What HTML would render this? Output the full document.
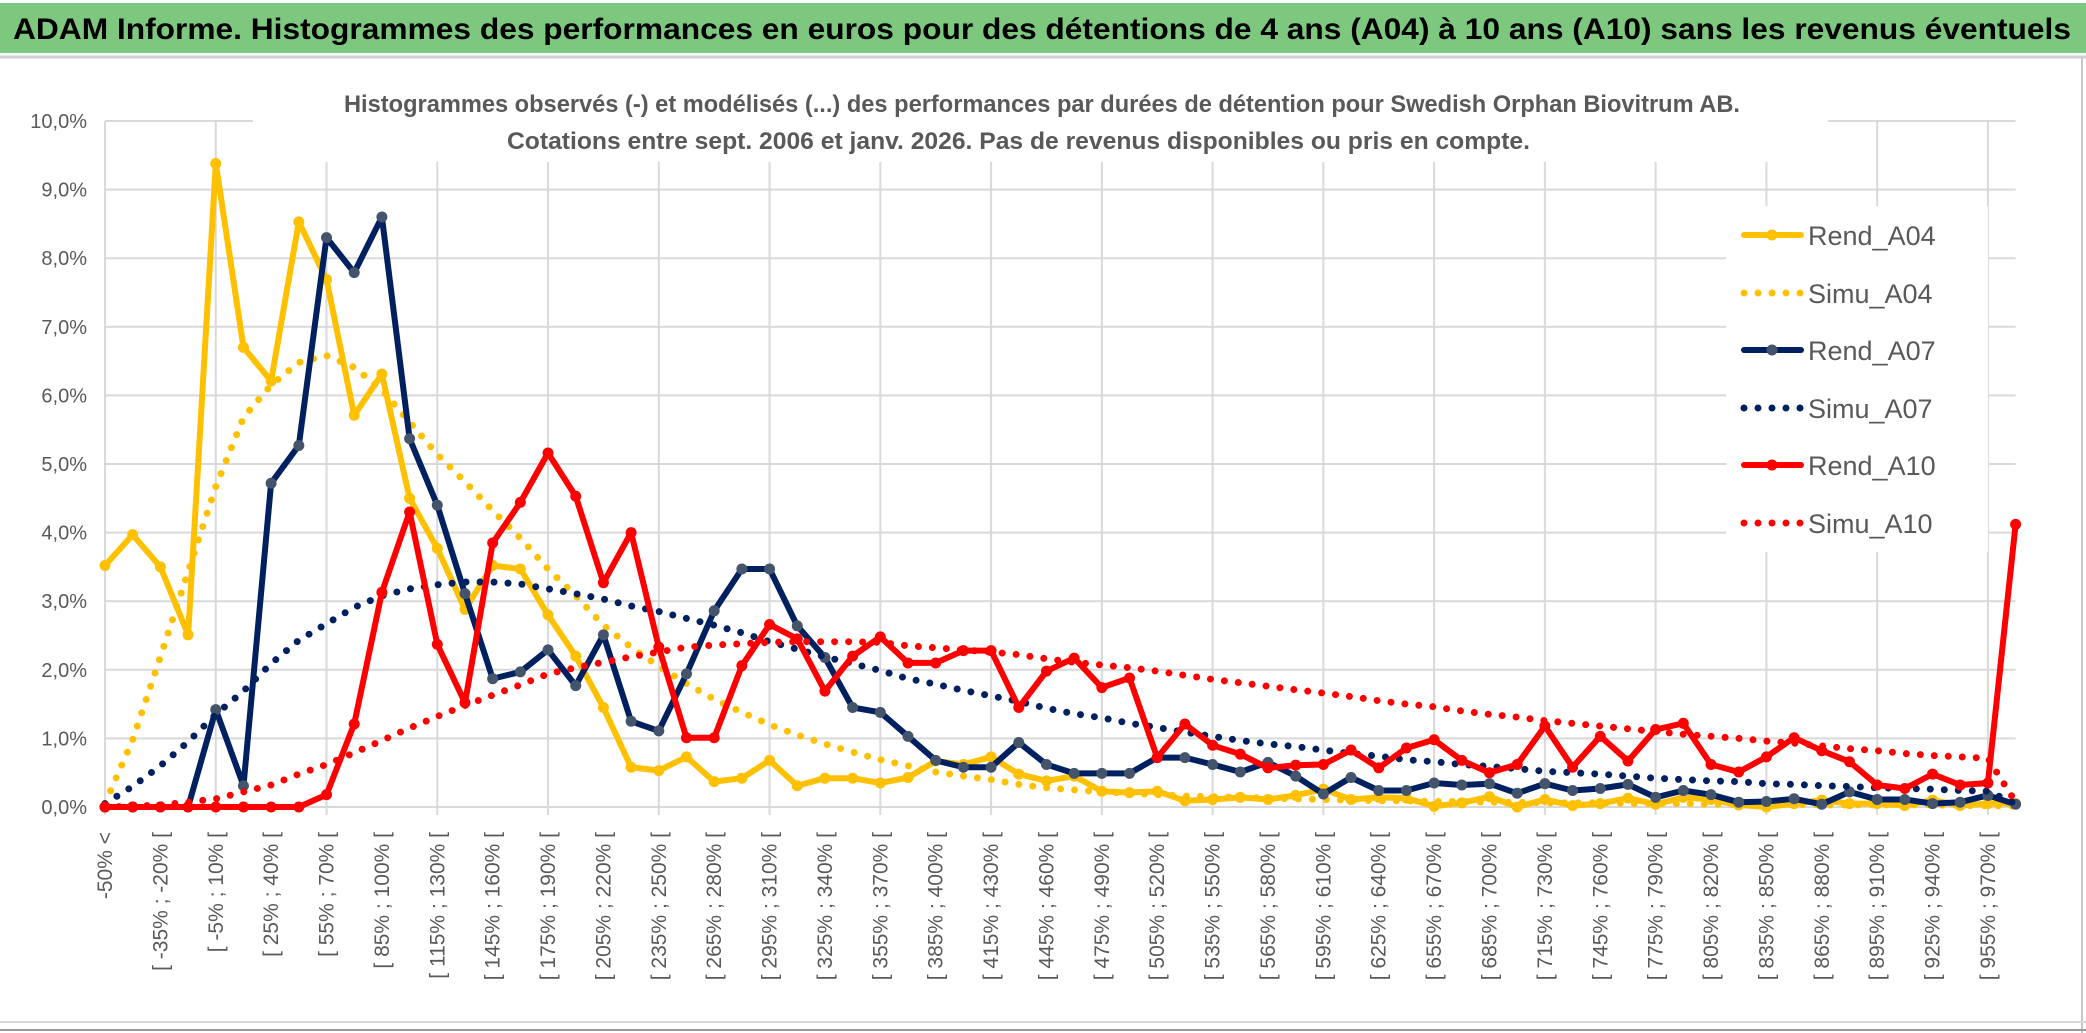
<!DOCTYPE html>
<html><head><meta charset="utf-8"><style>
html,body{margin:0;padding:0;background:#fff;}
svg{display:block;font-family:"Liberation Sans",sans-serif;}
</style></head>
<body>
<svg id="chart" width="2086" height="1033" viewBox="0 0 2086 1033" xmlns="http://www.w3.org/2000/svg">
  <rect x="0" y="0" width="2086" height="1033" fill="#fff"/>
  <rect x="0" y="3" width="2086" height="50" fill="#7dc87e"/>
  <text x="13" y="39" font-size="30" font-weight="bold" fill="#000" textLength="2058" lengthAdjust="spacingAndGlyphs">ADAM Informe. Histogrammes des performances en euros pour des détentions de 4 ans (A04) à 10 ans (A10) sans les revenus éventuels</text>
  <line x1="0" y1="57" x2="2086" y2="57" stroke="#d0d0d0" stroke-width="3"/>
  <line x1="2082" y1="57" x2="2082" y2="1033" stroke="#c8c8c8" stroke-width="2"/>
  <line x1="0" y1="1022" x2="2086" y2="1022" stroke="#d9d9d9" stroke-width="2"/>
  <line x1="0" y1="1030" x2="2086" y2="1030" stroke="#9a9a9a" stroke-width="2"/>
  <g id="grid"></g>
  <g id="ylabels"></g>
  <g id="xlabels"></g>
  <rect x="253" y="80" width="1575" height="82" fill="#fff"/>
  <text x="344" y="112" font-size="24" font-weight="bold" fill="#595959" textLength="1396" lengthAdjust="spacingAndGlyphs">Histogrammes observés (-) et modélisés (...) des performances par durées de détention pour Swedish Orphan Biovitrum AB.</text>
  <text x="507" y="149" font-size="24" font-weight="bold" fill="#595959" textLength="1023" lengthAdjust="spacingAndGlyphs">Cotations entre sept. 2006 et janv. 2026. Pas de revenus disponibles ou pris en compte.</text>
  <g id="series"></g>
  <rect x="1726" y="206" width="262" height="346" fill="#fff"/>
  <g id="legend"></g>
</svg>
<script>
const categories = ["-50% <","[ -50% ; -35% [","[ -35% ; -20% [","[ -20% ; -5% [","[ -5% ; 10% [","[ 10% ; 25% [","[ 25% ; 40% [","[ 40% ; 55% [","[ 55% ; 70% [","[ 70% ; 85% [",
"[ 85% ; 100% [","[ 100% ; 115% [","[ 115% ; 130% [","[ 130% ; 145% [","[ 145% ; 160% [","[ 160% ; 175% [","[ 175% ; 190% [","[ 190% ; 205% [","[ 205% ; 220% [","[ 220% ; 235% [",
"[ 235% ; 250% [","[ 250% ; 265% [","[ 265% ; 280% [","[ 280% ; 295% [","[ 295% ; 310% [","[ 310% ; 325% [","[ 325% ; 340% [","[ 340% ; 355% [","[ 355% ; 370% [","[ 370% ; 385% [",
"[ 385% ; 400% [","[ 400% ; 415% [","[ 415% ; 430% [","[ 430% ; 445% [","[ 445% ; 460% [","[ 460% ; 475% [","[ 475% ; 490% [","[ 490% ; 505% [","[ 505% ; 520% [","[ 520% ; 535% [",
"[ 535% ; 550% [","[ 550% ; 565% [","[ 565% ; 580% [","[ 580% ; 595% [","[ 595% ; 610% [","[ 610% ; 625% [","[ 625% ; 640% [","[ 640% ; 655% [","[ 655% ; 670% [","[ 670% ; 685% [",
"[ 685% ; 700% [","[ 700% ; 715% [","[ 715% ; 730% [","[ 730% ; 745% [","[ 745% ; 760% [","[ 760% ; 775% [","[ 775% ; 790% [","[ 790% ; 805% [","[ 805% ; 820% [","[ 820% ; 835% [",
"[ 835% ; 850% [","[ 850% ; 865% [","[ 865% ; 880% [","[ 880% ; 895% [","[ 895% ; 910% [","[ 910% ; 925% [","[ 925% ; 940% [","[ 940% ; 955% [","[ 955% ; 970% [","[ 970% ; 985% ["];
const yTicks = [0,1,2,3,4,5,6,7,8,9,10];
const yTickLabels = ["0,0%","1,0%","2,0%","3,0%","4,0%","5,0%","6,0%","7,0%","8,0%","9,0%","10,0%"];
const seriesNames = ["Rend_A04","Simu_A04","Rend_A07","Simu_A07","Rend_A10","Simu_A10"];
const rendA04 = [3.52,3.97,3.5,2.51,9.38,6.7,6.21,8.53,7.69,5.71,6.31,4.5,3.77,2.88,3.52,3.47,2.8,2.2,1.45,0.58,0.53,0.73,0.37,0.42,0.68,0.31,0.42,0.42,0.35,0.43,0.67,0.62,0.73,0.48,0.38,0.45,0.23,0.21,0.23,0.09,0.11,0.14,0.11,0.17,0.26,0.11,0.14,0.13,0.01,0.06,0.15,0,0.11,0.02,0.05,0.13,0.04,0.14,0.11,0.03,0,0.05,0.1,0.05,0.05,0.02,0.1,0.02,0.05,0.05];
const simuA04 = [0.05,0.98,2.19,3.43,4.67,5.68,6.15,6.48,6.58,6.41,6.08,5.61,5.14,4.74,4.32,3.92,3.47,3.08,2.65,2.33,2.05,1.8,1.57,1.38,1.2,1.05,0.92,0.8,0.69,0.6,0.51,0.45,0.4,0.33,0.28,0.25,0.22,0.2,0.18,0.16,0.15,0.14,0.13,0.12,0.11,0.1,0.09,0.09,0.08,0.08,0.07,0.07,0.06,0.06,0.06,0.05,0.05,0.05,0.04,0.04,0.04,0.04,0.03,0.03,0.03,0.03,0.03,0.02,0.02,0.01];
const rendA07 = [0,0,0,0,1.42,0.31,4.72,5.27,8.3,7.79,8.6,5.37,4.4,3.11,1.87,1.97,2.29,1.77,2.51,1.25,1.11,1.94,2.86,3.47,3.47,2.64,2.18,1.45,1.38,1.03,0.68,0.58,0.58,0.94,0.62,0.49,0.49,0.49,0.72,0.72,0.62,0.51,0.65,0.45,0.19,0.43,0.24,0.24,0.35,0.32,0.34,0.2,0.34,0.24,0.27,0.33,0.14,0.24,0.18,0.07,0.08,0.12,0.04,0.22,0.11,0.11,0.05,0.07,0.17,0.04];
const simuA07 = [0.05,0.3,0.6,0.95,1.35,1.69,2.09,2.43,2.67,2.91,3.08,3.18,3.24,3.28,3.28,3.25,3.18,3.11,3.03,2.93,2.85,2.75,2.65,2.54,2.41,2.3,2.19,2.09,1.99,1.87,1.79,1.7,1.62,1.54,1.44,1.36,1.3,1.22,1.16,1.09,1.03,0.97,0.92,0.88,0.83,0.78,0.74,0.69,0.66,0.62,0.59,0.56,0.52,0.5,0.48,0.45,0.42,0.4,0.38,0.37,0.34,0.33,0.31,0.3,0.28,0.27,0.26,0.24,0.23,0.05];
const rendA10 = [0,0,0,0,0,0,0,0,0.18,1.21,3.13,4.3,2.37,1.52,3.85,4.44,5.16,4.53,3.27,4.0,2.33,1.01,1.01,2.06,2.66,2.45,1.69,2.2,2.48,2.1,2.1,2.28,2.28,1.45,1.98,2.17,1.74,1.88,0.72,1.21,0.9,0.77,0.57,0.61,0.62,0.83,0.57,0.86,0.98,0.68,0.5,0.62,1.18,0.58,1.03,0.67,1.13,1.22,0.62,0.51,0.73,1.01,0.82,0.66,0.32,0.27,0.48,0.32,0.35,4.12];
const simuA10 = [0,0.01,0.03,0.07,0.12,0.22,0.32,0.48,0.62,0.79,0.97,1.15,1.32,1.48,1.63,1.78,1.94,2.03,2.11,2.19,2.26,2.33,2.36,2.38,2.4,2.41,2.41,2.41,2.4,2.35,2.32,2.29,2.26,2.22,2.16,2.11,2.07,2.03,1.98,1.92,1.86,1.81,1.76,1.71,1.66,1.61,1.55,1.5,1.46,1.4,1.35,1.31,1.26,1.22,1.18,1.14,1.1,1.06,1.03,1.0,0.96,0.93,0.89,0.85,0.82,0.78,0.75,0.73,0.71,0.07];

const NS = "http://www.w3.org/2000/svg";
const X0 = 105, XSTEP = 27.69, Y0 = 807, YUNIT = 68.6;
function xScale(i){ return X0 + i * XSTEP; }
function yScale(v){ return Y0 - v * YUNIT; }
function mk(tag, parent){ const e = document.createElementNS(NS, tag); parent.appendChild(e); return e; }

const grid = document.getElementById('grid');
const xEnd = xScale(categories.length - 1);
yTicks.forEach(function(t){
  const l = mk('line', grid);
  
  
  l.setAttribute('x1', X0); l.setAttribute('x2', xEnd);
  l.setAttribute('y1', yScale(t)); l.setAttribute('y2', yScale(t));
  l.setAttribute('stroke', '#d9d9d9'); l.setAttribute('stroke-width', '2');
});
categories.forEach(function(c, i){
  if (i % 4 !== 0) return;
  const l = mk('line', grid);
  
  
  l.setAttribute('x1', xScale(i)); l.setAttribute('x2', xScale(i));
  l.setAttribute('y1', yScale(10)); l.setAttribute('y2', yScale(0) + 8);
  l.setAttribute('stroke', '#d9d9d9'); l.setAttribute('stroke-width', '2');
});
const yl = document.getElementById('ylabels');
yTicks.forEach(function(t, i){
  const tx = mk('text', yl);
  
  
  tx.setAttribute('x', 87); tx.setAttribute('y', yScale(t) + 7);
  tx.setAttribute('text-anchor', 'end'); tx.setAttribute('font-size', '20');
  tx.setAttribute('fill', '#595959');
  tx.textContent = yTickLabels[i];
});
const xl = document.getElementById('xlabels');
categories.forEach(function(c, i){
  if (i % 2 !== 0) return;
  const tx = mk('text', xl);
  
  
  const x = xScale(i) + 7, y = 832;
  tx.setAttribute('x', x); tx.setAttribute('y', y);
  tx.setAttribute('transform', 'rotate(-90 ' + x + ' ' + y + ')');
  tx.setAttribute('text-anchor', 'end'); tx.setAttribute('font-size', '21');
  tx.setAttribute('fill', '#595959');
  tx.textContent = c;
});

const seriesData = [rendA04, simuA04, rendA07, simuA07, rendA10, simuA10];
const colors = ["#ffc000","#ffc000","#002060","#002060","#ff0000","#ff0000"];
const markerColors = ["#ffc000",null,"#44546a",null,"#ff0000",null];
const sg = document.getElementById('series');
seriesData.forEach(function(vals, s){
  const g = mk('g', sg);
  
  
  const pts = vals.map(function(v, i){ return xScale(i).toFixed(1) + ',' + yScale(v).toFixed(1); }).join(' ');
  const pl = mk('polyline', g);
  
  
  pl.setAttribute('points', pts);
  pl.setAttribute('fill', 'none');
  pl.setAttribute('stroke', colors[s]);
  pl.setAttribute('stroke-linejoin', 'round');
  pl.setAttribute('stroke-linecap', 'round');
  if (markerColors[s]) {
    pl.setAttribute('stroke-width', '6');
    vals.forEach(function(v, i){
      const c = mk('circle', g);
      
      
      c.setAttribute('cx', xScale(i)); c.setAttribute('cy', yScale(v));
      c.setAttribute('r', '5.5'); c.setAttribute('fill', markerColors[s]);
    });
  } else {
    pl.setAttribute('stroke-width', '7');
    pl.setAttribute('stroke-dasharray', '0 14');
  }
});

const lg = document.getElementById('legend');
const legendY = [235, 293, 350, 408, 465, 523];
seriesNames.forEach(function(n, s){
  const y = legendY[s];
  const ln = mk('line', lg);
  
  
  ln.setAttribute('x1', 1744); ln.setAttribute('x2', 1801);
  ln.setAttribute('y1', y); ln.setAttribute('y2', y);
  ln.setAttribute('stroke', colors[s]); ln.setAttribute('stroke-linecap', 'round');
  if (markerColors[s]) {
    ln.setAttribute('stroke-width', '6');
    const c = mk('circle', lg);
    
    
    c.setAttribute('cx', 1772); c.setAttribute('cy', y); c.setAttribute('r', '5.5');
    c.setAttribute('fill', markerColors[s]);
  } else {
    ln.setAttribute('stroke-width', '7');
    ln.setAttribute('stroke-dasharray', '0 14');
  }
  const tx = mk('text', lg);
  
  
  tx.setAttribute('x', 1808); tx.setAttribute('y', y + 10);
  tx.setAttribute('font-size', '27'); tx.setAttribute('fill', '#595959');
  tx.textContent = n;
});
</script>
</body></html>
